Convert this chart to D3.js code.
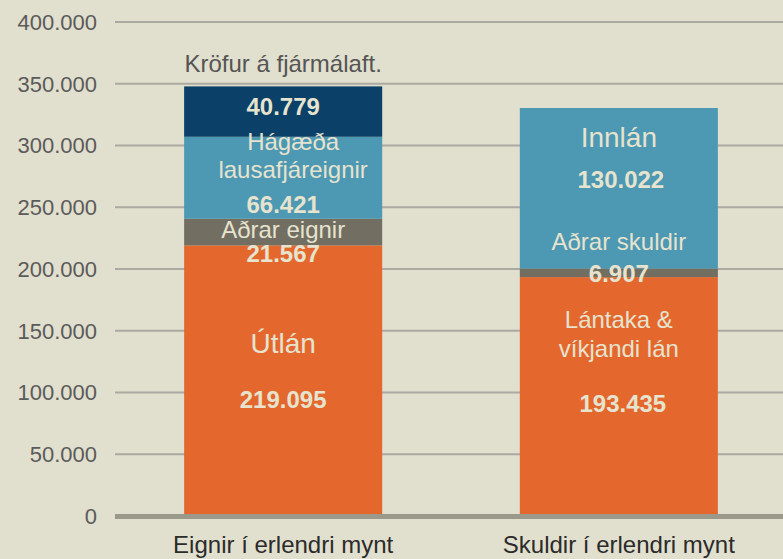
<!doctype html>
<html lang="is">
<head>
<meta charset="utf-8">
<script src="https://cdn.jsdelivr.net/npm/d3@7"></script>
<style>
  body { margin: 0; background: #e1dfcd; }
  svg { display: block; font-family: "Liberation Sans", Arial, sans-serif; }
</style>
</head>
<body>
<div id="chart"></div>
<script>
// gögn (m.kr.)
var categories = ["Eignir í erlendri mynt", "Skuldir í erlendri mynt"];
var assetNames = ["Útlán", "Aðrar eignir", "Hágæða\nlausafjáreignir", "Kröfur á fjármálaft."];
var assetValues = [219095, 21567, 66421, 40779];
var debtNames = ["Lántaka &\nvíkjandi lán", "Aðrar skuldir", "Innlán"];
var debtValues = [193435, 6907, 130022];
var yTicks = [0, 50000, 100000, 150000, 200000, 250000, 300000, 350000, 400000];

var assetColors = ["#e4682e", "#726e62", "#4d98b2", "#0b4068"];
var debtColors = ["#e4682e", "#726e62", "#4d98b2"];

// label placement: baseline offsets (px) from the segment middle
var labelPos = {
  "Útlán":                  { name: [-28], value: 27, size: 28 },
  "Aðrar eignir":           { name: [5.5], value: 30 },
  "Hágæða\nlausafjáreignir":{ name: [-28, 0], value: 35.5, dx: 10 },
  "Kröfur á fjármálaft.":   { name: [-40], value: 3.5, outside: true },
  "Lántaka &\nvíkjandi lán":{ name: [-68.5, -39.5], value: 15.5, vdx: 4 },
  "Aðrar skuldir":          { name: [-23], value: 9 },
  "Innlán":                 { name: [-41], value: 0, size: 28, vdx: 2 }
};

var W = 783, H = 559;
var is = d3.formatLocale({ decimal: ",", thousands: ".", grouping: [3], currency: ["", ""] });
var fmt = is.format(",d");

var svg = d3.select("#chart").append("svg")
    .attr("width", W)
    .attr("height", H);

var x = d3.scaleBand()
    .domain(categories)
    .range([117, 785])
    .paddingInner(0.41)
    .paddingOuter(0.2);

var y = d3.scaleLinear()
    .domain([0, 400000])
    .range([516, 22]);

// gridlines
svg.append("g")
  .selectAll("line")
  .data(yTicks.slice(1))
  .join("line")
    .attr("x1", 115).attr("x2", W)
    .attr("y1", d => y(d)).attr("y2", d => y(d))
    .attr("stroke", "#aaa9a2")
    .attr("stroke-width", 2);

// y tick labels
svg.append("g")
  .selectAll("text")
  .data(yTicks)
  .join("text")
    .attr("x", 97)
    .attr("y", d => y(d))
    .attr("dy", "0.36em")
    .attr("text-anchor", "end")
    .attr("font-size", 22)
    .attr("fill", "#5b5b5b")
    .text(d => fmt(d));

function stackSegs(names, values, colors, cat) {
  var acc = 0;
  return names.map(function(n, i) {
    var s = { cat: cat, name: n, value: values[i], y0: acc, y1: acc + values[i], color: colors[i] };
    acc += values[i];
    return s;
  });
}

var segs = stackSegs(assetNames, assetValues, assetColors, categories[0])
  .concat(stackSegs(debtNames, debtValues, debtColors, categories[1]));

svg.append("g")
  .selectAll("rect")
  .data(segs)
  .join("rect")
    .attr("x", d => x(d.cat))
    .attr("width", x.bandwidth())
    .attr("y", d => y(d.y1))
    .attr("height", d => y(d.y0) - y(d.y1))
    .attr("fill", d => d.color);

// axis baseline
svg.append("line")
    .attr("x1", 115).attr("x2", W)
    .attr("y1", y(0) + 0.5).attr("y2", y(0) + 0.5)
    .attr("stroke", "#9b9a8a")
    .attr("stroke-width", 5);

// segment labels
var lab = svg.append("g").attr("text-anchor", "middle");
segs.forEach(function(d) {
  var p = labelPos[d.name];
  var cx = x(d.cat) + x.bandwidth() / 2;
  var mid = (y(d.y0) + y(d.y1)) / 2;
  var lines = d.name.split("\n");
  lines.forEach(function(t, i) {
    lab.append("text")
        .attr("x", cx + (p.dx || 0))
        .attr("y", mid + p.name[i])
        .attr("font-size", p.size || 24)
        .attr("fill", p.outside ? "#555555" : "#e6e3cf")
        .text(t);
  });
  lab.append("text")
      .attr("x", cx + (p.vdx || 0))
      .attr("y", mid + p.value)
      .attr("font-size", 24)
      .attr("font-weight", "bold")
      .attr("fill", "#e6e3cf")
      .text(fmt(d.value));
});

// category labels
svg.append("g")
  .selectAll("text")
  .data(categories)
  .join("text")
    .attr("x", d => x(d) + x.bandwidth() / 2)
    .attr("y", 553)
    .attr("text-anchor", "middle")
    .attr("font-size", 24)
    .attr("fill", "#2b2b2b")
    .text(d => d);
</script>
</body>
</html>
